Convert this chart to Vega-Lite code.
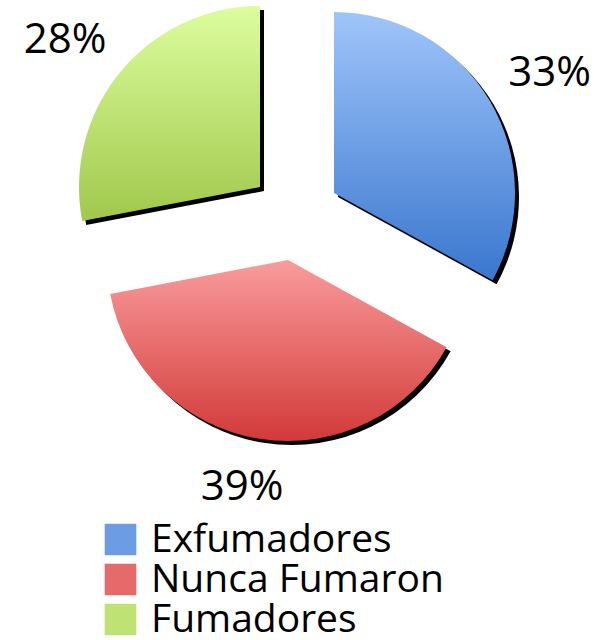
{
  "$schema": "https://vega.github.io/schema/vega-lite/v6.json",
  "width": 600,
  "height": 430,
  "autosize": {"type": "none"},
  "padding": {"top": 0, "left": 0, "right": 0, "bottom": 210},
  "background": "white",
  "config": {"view": {"stroke": null}},
  "data": {
    "values": [
      {"categoria": "Exfumadores", "pct": 33, "etiqueta": "33%", "orden": 1},
      {"categoria": "Nunca Fumaron", "pct": 39, "etiqueta": "39%", "orden": 2},
      {"categoria": "Fumadores", "pct": 28, "etiqueta": "28%", "orden": 3}
    ]
  },
  "transform": [
    {"stack": "pct", "groupby": [], "sort": [{"field": "orden", "order": "ascending"}], "as": ["inicio", "fin"]}
  ],
  "layer": [
    {
      "mark": {"type": "arc", "radius": 0, "opacity": 0},
      "encoding": {
        "theta": {"field": "inicio", "type": "quantitative", "stack": null, "scale": {"domain": [0, 100]}},
        "theta2": {"field": "fin"},
        "color": {
          "field": "categoria",
          "type": "nominal",
          "scale": {
            "domain": ["Exfumadores", "Nunca Fumaron", "Fumadores"],
            "range": ["#6B9CE4", "#E56B6A", "#BFE275"]
          },
          "legend": {
            "orient": "none",
            "legendX": 101,
            "legendY": 520,
            "title": null,
            "symbolType": "square",
            "symbolSize": 1000,
            "symbolStrokeWidth": 0,
            "symbolOpacity": 1,
            "labelFont": "Open Sans",
            "labelFontSize": 39,
            "labelColor": "black",
            "labelOffset": 11,
            "labelLimit": 0,
            "rowPadding": 0,
            "padding": 0
          }
        }
      }
    },
    {
      "transform": [{"filter": "datum.categoria === 'Exfumadores'"}],
      "mark": {"type": "arc", "radius": 181, "xOffset": 38, "yOffset": -18, "fill": "black"},
      "encoding": {
        "theta": {"field": "inicio", "type": "quantitative", "stack": null, "scale": {"domain": [0, 100]}},
        "theta2": {"field": "fin"}
      }
    },
    {
      "transform": [{"filter": "datum.categoria === 'Nunca Fumaron'"}],
      "mark": {"type": "arc", "radius": 181, "xOffset": -8, "yOffset": 49, "fill": "black"},
      "encoding": {
        "theta": {"field": "inicio", "type": "quantitative", "stack": null, "scale": {"domain": [0, 100]}},
        "theta2": {"field": "fin"}
      }
    },
    {
      "transform": [{"filter": "datum.categoria === 'Fumadores'"}],
      "mark": {"type": "arc", "radius": 181, "xOffset": -36, "yOffset": -24, "fill": "black"},
      "encoding": {
        "theta": {"field": "inicio", "type": "quantitative", "stack": null, "scale": {"domain": [0, 100]}},
        "theta2": {"field": "fin"}
      }
    },
    {
      "transform": [{"filter": "datum.categoria === 'Exfumadores'"}],
      "mark": {
        "type": "arc", "radius": 181, "xOffset": 34, "yOffset": -22,
        "fill": {"gradient": "linear", "x1": 0, "y1": 0, "x2": 0, "y2": 1, "stops": [{"offset": 0, "color": "#A0C5FA"}, {"offset": 1, "color": "#3A77CE"}]}
      },
      "encoding": {
        "theta": {"field": "inicio", "type": "quantitative", "stack": null, "scale": {"domain": [0, 100]}},
        "theta2": {"field": "fin"}
      }
    },
    {
      "transform": [{"filter": "datum.categoria === 'Nunca Fumaron'"}],
      "mark": {
        "type": "arc", "radius": 181, "xOffset": -12, "yOffset": 45,
        "fill": {"gradient": "linear", "x1": 0, "y1": 0, "x2": 0, "y2": 1, "stops": [{"offset": 0, "color": "#F99C9C"}, {"offset": 1, "color": "#D23A38"}]}
      },
      "encoding": {
        "theta": {"field": "inicio", "type": "quantitative", "stack": null, "scale": {"domain": [0, 100]}},
        "theta2": {"field": "fin"}
      }
    },
    {
      "transform": [{"filter": "datum.categoria === 'Fumadores'"}],
      "mark": {
        "type": "arc", "radius": 181, "xOffset": -40, "yOffset": -28,
        "fill": {"gradient": "linear", "x1": 0, "y1": 0, "x2": 0, "y2": 1, "stops": [{"offset": 0, "color": "#DDFD9E"}, {"offset": 1, "color": "#A1C84C"}]}
      },
      "encoding": {
        "theta": {"field": "inicio", "type": "quantitative", "stack": null, "scale": {"domain": [0, 100]}},
        "theta2": {"field": "fin"}
      }
    },
    {
      "transform": [
        {"filter": "datum.categoria === 'Exfumadores'"},
        {"fold": ["inicio", "fin"], "as": ["borde", "valor"]}
      ],
      "mark": {"type": "text", "radius": 247, "xOffset": 37, "yOffset": -16, "font": "Open Sans", "fontSize": 42, "color": "black"},
      "encoding": {
        "theta": {"field": "valor", "aggregate": "mean", "type": "quantitative", "scale": {"domain": [0, 100]}},
        "text": {"field": "etiqueta"}
      }
    },
    {
      "transform": [
        {"filter": "datum.categoria === 'Nunca Fumaron'"},
        {"fold": ["inicio", "fin"], "as": ["borde", "valor"]}
      ],
      "mark": {"type": "text", "radius": 230, "xOffset": -22, "yOffset": 45, "font": "Open Sans", "fontSize": 42, "color": "black"},
      "encoding": {
        "theta": {"field": "valor", "aggregate": "mean", "type": "quantitative", "scale": {"domain": [0, 100]}},
        "text": {"field": "etiqueta"}
      }
    },
    {
      "transform": [
        {"filter": "datum.categoria === 'Fumadores'"},
        {"fold": ["inicio", "fin"], "as": ["borde", "valor"]}
      ],
      "mark": {"type": "text", "radius": 240, "xOffset": -50, "yOffset": -22, "font": "Open Sans", "fontSize": 42, "color": "black"},
      "encoding": {
        "theta": {"field": "valor", "aggregate": "mean", "type": "quantitative", "scale": {"domain": [0, 100]}},
        "text": {"field": "etiqueta"}
      }
    }
  ]
}
